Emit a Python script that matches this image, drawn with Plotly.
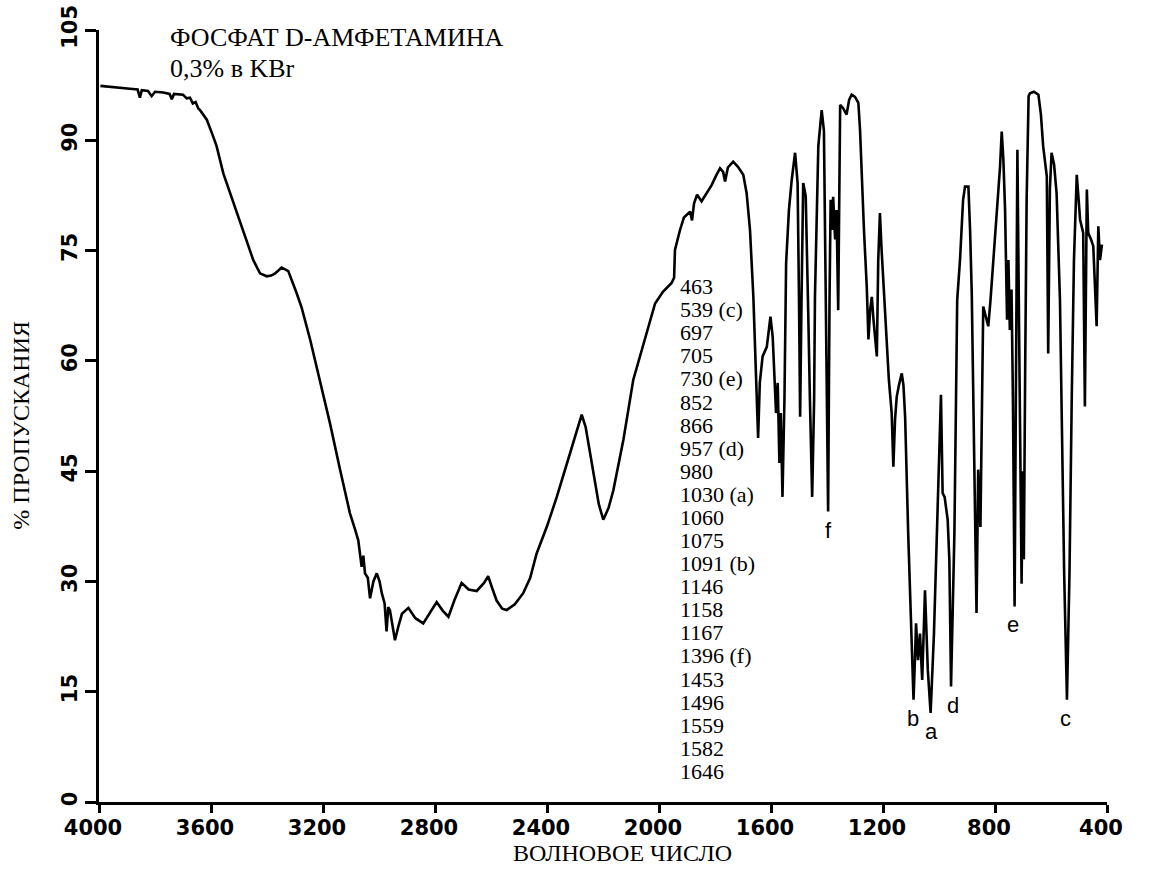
import plotly.graph_objects as go

# ---- data ----
wavenumber = [3995, 3960, 3930, 3890, 3862, 3854, 3847, 3825, 3812, 3800, 3770, 3748, 3740, 3732, 3700,
              3687, 3675, 3665, 3655, 3645, 3639, 3630, 3615, 3595, 3580, 3556, 3520, 3485, 3449, 3425,
              3401, 3385, 3371, 3348, 3324, 3294, 3276, 3246, 3211, 3175, 3139, 3104, 3085, 3074, 3062,
              3056, 3050, 3040, 3032, 3020, 3008, 2998, 2990, 2980, 2973, 2967, 2961, 2952, 2943, 2930,
              2918, 2895, 2870, 2842, 2815, 2794, 2772, 2752, 2730, 2705, 2680, 2651, 2625, 2610, 2595,
              2580, 2560, 2544, 2515, 2485, 2460, 2437, 2400, 2365, 2318, 2290, 2276, 2262, 2240, 2215,
              2199, 2180, 2163, 2127, 2092, 2068, 2043, 2014, 1986, 1955, 1946, 1943, 1925, 1911, 1889,
              1882, 1875, 1864, 1848, 1832, 1812, 1796, 1782, 1771, 1764, 1754, 1735, 1718, 1699, 1687,
              1675, 1663, 1654, 1646, 1640, 1630, 1615, 1602, 1594, 1582, 1576, 1570, 1565, 1559, 1552,
              1546, 1536, 1526, 1514, 1505, 1500, 1496, 1491, 1485, 1476, 1471, 1467, 1461, 1453, 1446,
              1443, 1431, 1419, 1411, 1405, 1396, 1391, 1387, 1382, 1378, 1371, 1366, 1360, 1356, 1353,
              1343, 1330, 1321, 1312, 1300, 1288, 1282, 1276, 1268, 1258, 1252, 1246, 1240, 1234, 1222,
              1217, 1211, 1205, 1196, 1187, 1179, 1169, 1163, 1157, 1151, 1143, 1133, 1127, 1121, 1110,
              1100, 1091, 1086, 1082, 1075, 1068, 1060, 1050, 1040, 1030, 1018, 1005, 993, 987, 980,
              969, 963, 957, 950, 945, 935, 925, 914, 907, 895, 889, 883, 877, 866, 860,
              852, 842, 836, 824, 816, 806, 793, 782, 776, 770, 764, 757, 752, 747, 741,
              736, 730, 725, 720, 715, 709, 705, 701, 697, 692, 687, 680, 675, 661, 645,
              636, 628, 615, 610, 604, 598, 589, 580, 568, 553, 543, 534, 526, 518, 508,
              496, 485, 479, 472, 467, 457, 449, 437, 431, 425, 418]

transmittance = [97.4, 97.3, 97.2, 97.0, 96.9, 95.8, 96.8, 96.7, 96.0, 96.6, 96.5, 96.3, 95.6, 96.3, 96.2,
                 95.7, 95.8, 95.0, 95.2, 94.3, 94.1, 93.6, 92.8, 90.8, 89.2, 85.5, 81.5, 77.8, 73.7, 71.9,
                 71.5, 71.6, 71.9, 72.7, 72.2, 69.2, 67.2, 62.9, 57.4, 51.5, 45.2, 39.3, 37.0, 35.6, 32.0,
                 33.5, 31.1, 30.5, 27.7, 30.0, 31.1, 30.0, 28.4, 27.0, 23.2, 26.5, 26.1, 24.0, 22.0, 24.0,
                 25.6, 26.4, 25.0, 24.3, 26.0, 27.2, 26.0, 25.2, 27.5, 29.8, 28.9, 28.7, 29.8, 30.7, 29.0,
                 27.4, 26.3, 26.1, 26.9, 28.4, 30.5, 33.8, 37.5, 41.5, 47.4, 50.8, 52.7, 51.0, 46.1, 40.5,
                 38.4, 40.0, 42.4, 49.3, 57.4, 60.6, 64.2, 67.8, 69.4, 70.6, 71.3, 75.1, 77.8, 79.5, 80.3,
                 79.1, 81.4, 82.6, 81.7, 82.7, 83.9, 85.2, 86.2, 85.7, 84.4, 86.3, 87.1, 86.4, 85.3, 82.8,
                 77.8, 68.7, 57.4, 49.5, 57.0, 60.6, 61.9, 66.0, 63.3, 52.9, 57.0, 46.1, 52.9, 41.5, 54.7,
                 73.3, 80.5, 84.6, 88.3, 84.2, 68.3, 52.4, 68.3, 84.2, 82.4, 75.1, 66.5, 54.7, 41.5, 54.7,
                 68.7, 89.2, 94.1, 91.3, 68.3, 39.5, 68.3, 81.9, 77.8, 82.3, 76.5, 80.5, 66.9, 81.9, 94.8,
                 94.4, 93.5, 95.5, 96.2, 95.9, 95.1, 91.4, 84.6, 77.8, 70.1, 62.9, 66.9, 68.7, 65.6, 60.6,
                 73.7, 80.1, 75.1, 68.3, 61.9, 57.4, 52.9, 45.6, 52.0, 55.1, 56.7, 58.3, 56.7, 52.4, 36.5,
                 22.9, 13.9, 19.3, 24.3, 19.3, 22.9, 16.6, 28.8, 18.0, 12.1, 22.9, 41.1, 55.4, 42.0, 41.5,
                 38.4, 32.9, 15.7, 27.5, 36.5, 68.3, 73.7, 81.9, 83.7, 83.7, 77.8, 69.2, 52.0, 25.7, 45.2,
                 37.4, 67.4, 66.5, 64.7, 68.3, 73.7, 81.9, 86.4, 91.2, 87.3, 80.5, 65.6, 73.7, 64.2, 69.7,
                 55.0, 26.6, 68.3, 88.7, 68.3, 50.0, 29.7, 45.0, 33.0, 60.0, 81.9, 96.0, 96.4, 96.6, 96.2,
                 93.5, 89.2, 85.1, 61.0, 83.3, 88.3, 86.7, 82.8, 68.3, 31.1, 13.9, 31.1, 54.7, 73.7, 85.3,
                 79.2, 77.4, 53.8, 83.3, 77.4, 76.5, 75.6, 64.7, 78.3, 73.7, 75.8]

x_ticks = [4000, 3600, 3200, 2800, 2400, 2000, 1600, 1200, 800, 400]
y_ticks = [0, 15, 30, 45, 60, 75, 90, 105]

peak_list = ["463", "539 (c)", "697", "705", "730 (e)", "852", "866", "957 (d)", "980",
             "1030 (a)", "1060", "1075", "1091 (b)", "1146", "1158", "1167", "1396 (f)",
             "1453", "1496", "1559", "1582", "1646"]

peak_letters = ["f", "b", "a", "d", "e", "c"]
peak_letter_x = [1396, 1093, 1026, 950, 735, 550]
peak_letter_y = [39.5, 13.9, 12.1, 15.7, 26.6, 13.9]

title_lines = ["ФОСФАТ D-АМФЕТАМИНА", "0,3% в KBr"]

# ---- figure ----
fig = go.Figure()
fig.add_trace(go.Scatter(x=wavenumber, y=transmittance, mode="lines",
                         line=dict(color="black", width=2.6), hoverinfo="skip"))

serif = "Liberation Serif, Times New Roman, serif"
ann = []
# title text
ann.append(dict(x=3754, y=104.0, xref="x", yref="y", text=title_lines[0], showarrow=False,
                xanchor="left", yanchor="middle", font=dict(family=serif, size=26, color="black")))
ann.append(dict(x=3754, y=99.8, xref="x", yref="y", text=title_lines[1], showarrow=False,
                xanchor="left", yanchor="middle", font=dict(family=serif, size=26, color="black")))
# list of peaks
for i, t in enumerate(peak_list):
    ann.append(dict(x=1932, y=70.1 - i * 3.14, xref="x", yref="y", text=t, showarrow=False,
                    xanchor="left", yanchor="middle", font=dict(family=serif, size=22, color="black")))
# peak letters
for lx, ly, lt in zip(peak_letter_x, peak_letter_y, peak_letters):
    ann.append(dict(x=lx, y=ly, xref="x", yref="y", text=lt, showarrow=False,
                    xanchor="center", yanchor="top", yshift=-4,
                    font=dict(family="Liberation Sans, Arial, sans-serif", size=22, color="black")))
# axis titles
ann.append(dict(x=0.519, y=-0.0655, xref="paper", yref="paper", text="ВОЛНОВОЕ ЧИСЛО", showarrow=False,
                xanchor="center", yanchor="middle", font=dict(family=serif, size=24, color="black")))
ann.append(dict(x=-0.077, y=0.488, xref="paper", yref="paper", text="% ПРОПУСКАНИЯ", showarrow=False,
                textangle=-90, xanchor="center", yanchor="middle",
                font=dict(family=serif, size=24, color="black")))

tickfont = dict(family="DejaVu Sans, sans-serif", size=21, color="black", weight="bold")

fig.update_layout(
    template="none",
    width=1158, height=874,
    margin=dict(l=99, r=51, t=30, b=72),
    plot_bgcolor="white", paper_bgcolor="white",
    showlegend=False,
    annotations=ann,
    xaxis=dict(range=[4000, 400], tickvals=x_ticks, ticktext=[str(v) for v in x_ticks],
               showline=True, linecolor="black", linewidth=3, ticks="outside", ticklen=8,
               tickwidth=2.5, tickcolor="black", showgrid=False, zeroline=False,
               tickfont=tickfont, ticklabelshift=6, ticklabelstandoff=-3, automargin=False),
    yaxis=dict(range=[0, 105], tickvals=y_ticks, ticktext=[str(v) for v in y_ticks],
               showline=True, linecolor="black", linewidth=3, ticks="outside", ticklen=11,
               tickwidth=2.5, tickcolor="black", showgrid=False, zeroline=False,
               tickangle=-90, tickfont=tickfont, automargin=False),
)

fig.write_html("out.html", config={"displayModeBar": False},
               post_script="document.body.style.margin='0';document.body.style.overflow='hidden';")
